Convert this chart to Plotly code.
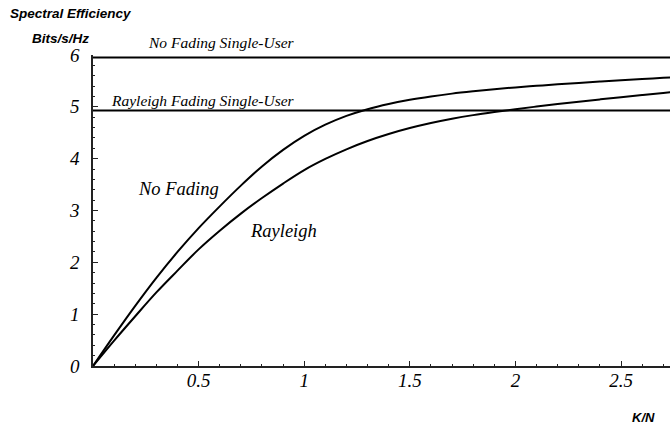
import plotly.graph_objects as go

# Load ratio K/N and the spectral efficiency (bits/s/Hz) of the two channel models
kn = [0, 0.1, 0.2, 0.3, 0.4, 0.5, 0.6, 0.7, 0.8, 0.9, 1.0, 1.1, 1.2, 1.3,
      1.4, 1.5, 1.6, 1.7, 1.8, 1.9, 2.0, 2.1, 2.2, 2.3, 2.4, 2.5, 2.6,
      2.7, 2.8]
no_fading = [0, 0.59, 1.16, 1.70, 2.20, 2.66, 3.08, 3.48, 3.85, 4.17, 4.44,
             4.655, 4.825, 4.955, 5.055, 5.135, 5.20, 5.255, 5.30, 5.34, 5.375,
             5.405, 5.435, 5.462, 5.488, 5.513, 5.537, 5.56, 5.583]
rayleigh = [0, 0.49, 0.96, 1.42, 1.84, 2.25, 2.61, 2.94, 3.24, 3.52, 3.78,
            3.995, 4.18, 4.34, 4.475, 4.59, 4.687, 4.77, 4.84, 4.90, 4.955,
            5.005, 5.053, 5.099, 5.143, 5.186, 5.227, 5.267, 5.306]

# Single-user reference levels
single_user_kn = [0, 2.8]
no_fading_single = [5.95, 5.95]
rayleigh_single = [4.93, 4.93]

x_ticks = [0.5, 1, 1.5, 2, 2.5]
x_tick_text = ["0.5", "1", "1.5", "2", "2.5"]
y_ticks = [0, 1, 2, 3, 4, 5, 6]
y_tick_text = ["0", "1", "2", "3", "4", "5", "6"]

W, H = 670, 428
L, R, T, B = 93, 0, 55, 62
PW, PH = W - L - R, H - T - B
X_MAX = 2.732

SERIF = "Liberation Serif, Times New Roman, serif"
SANS = "Liberation Sans, Arial, sans-serif"


def px(x, y):
    """Pixel position on the page -> paper coordinates."""
    return (x - L) / PW, (H - B - y) / PH


fig = go.Figure()

line_style = dict(color="black", width=2)
fig.add_trace(go.Scatter(x=single_user_kn, y=no_fading_single, mode="lines",
                         line=line_style, hoverinfo="skip"))
fig.add_trace(go.Scatter(x=single_user_kn, y=rayleigh_single, mode="lines",
                         line=line_style, hoverinfo="skip"))
fig.add_trace(go.Scatter(x=kn, y=no_fading, mode="lines", line_shape="spline",
                         line=line_style, name="No Fading"))
fig.add_trace(go.Scatter(x=kn, y=rayleigh, mode="lines", line_shape="spline",
                         line=line_style, name="Rayleigh"))

tick_font = dict(family=SERIF, size=19, color="black", style="italic")

fig.update_xaxes(
    range=[0, X_MAX], showgrid=False, zeroline=False,
    showline=True, linecolor="#222", linewidth=1.5,
    tickmode="array", tickvals=x_ticks, ticktext=x_tick_text,
    ticks="inside", ticklen=5, tickwidth=1.2, tickcolor="#222",
    minor=dict(ticks="inside", ticklen=2.5, tickwidth=1, tickcolor="#222",
               tick0=0, dtick=0.1),
    tickfont=tick_font, ticklabelstandoff=-4,
)
fig.update_yaxes(
    range=[0, 6], showgrid=False, zeroline=False,
    showline=True, linecolor="#222", linewidth=1.5,
    tickmode="array", tickvals=y_ticks, ticktext=y_tick_text,
    ticks="inside", ticklen=5, tickwidth=1.2, tickcolor="#222",
    minor=dict(ticks="inside", ticklen=2.5, tickwidth=1, tickcolor="#222",
               tick0=0, dtick=0.2),
    tickfont=tick_font, ticklabelstandoff=8,
)


def label(text, x, y, font):
    ax, ay = px(x, y)
    fig.add_annotation(text=text, x=ax, y=ay, xref="paper", yref="paper",
                       xanchor="center", yanchor="middle", showarrow=False,
                       font=font)


head_font = dict(family=SANS, size=13.5, color="black",
                 weight="bold", style="italic")
label("Spectral Efficiency", 71, 14, head_font)
label("Bits/s/Hz", 60, 38, head_font)
label("K/N", 643, 417, dict(head_font, size=13))

ref_font = dict(family=SERIF, size=15.5, color="black", style="italic")
label("No Fading Single-User", 221, 43, ref_font)
label("Rayleigh Fading Single-User", 203, 100, ref_font)

curve_font = dict(family=SERIF, size=18.5, color="black", style="italic")
label("No Fading", 178, 189, curve_font)
label("Rayleigh", 283, 231, curve_font)

fig.update_layout(
    width=W, height=H, margin=dict(l=L, r=R, t=T, b=B, pad=0),
    paper_bgcolor="white", plot_bgcolor="white", showlegend=False,
)

fig.write_html("out.html")
